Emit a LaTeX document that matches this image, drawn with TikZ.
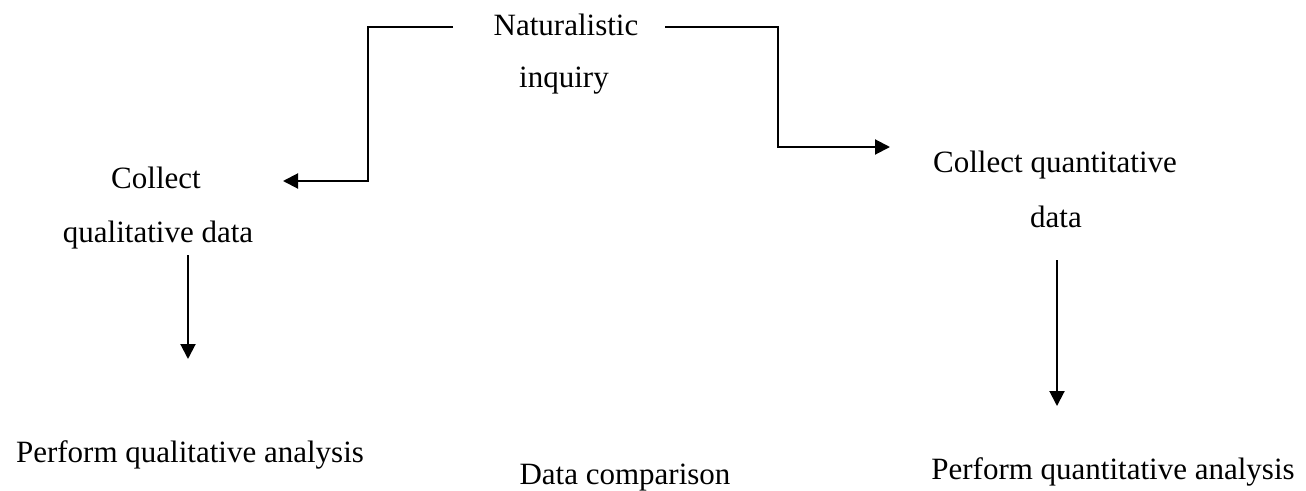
\documentclass[tikz,border=0pt]{standalone}
\usepackage{fontspec}
\setmainfont{Liberation Serif}
\usetikzlibrary{arrows.meta}
\begin{document}
\begin{tikzpicture}[x=1pt,y=-1pt,
  lbl/.style={inner sep=0pt,anchor=base,font=\fontsize{31}{36}\selectfont},
  conn/.style={line width=2pt,-{Triangle[length=15pt,width=15pt]}}]
\useasboundingbox (0,0) rectangle (1306,490);
\node[lbl] (nat1) at (566,35) {Naturalistic};
\node[lbl] (nat2) at (564,87) {inquiry};
\node[lbl] (ql1) at (156,188) {Collect};
\node[lbl] (ql2) at (158,242) {qualitative data};
\node[lbl] (qn1) at (1055,172) {Collect quantitative};
\node[lbl] (qn2) at (1056,227) {data};
\node[lbl] (pql) at (190,462) {Perform qualitative analysis};
\node[lbl] (dc) at (625,484) {Data comparison};
\node[lbl] (pqn) at (1113,479) {Perform quantitative analysis};
\coordinate (lA) at (453,27);
\coordinate (lB) at (368,27);
\coordinate (lC) at (368,181);
\coordinate (lD) at (283,181);
\coordinate (rA) at (665,27);
\coordinate (rB) at (778,27);
\coordinate (rC) at (778,147);
\coordinate (rD) at (890,147);
\coordinate (a1) at (188,255);
\coordinate (a2) at (188,359);
\coordinate (b1) at (1057,260);
\coordinate (b2) at (1057,406);
\draw[conn] (lA) -- (lB) -- (lC) -- (lD);
\draw[conn] (rA) -- (rB) -- (rC) -- (rD);
\draw[conn] (a1) -- (a2);
\draw[conn] (b1) -- (b2);
\end{tikzpicture}
\end{document}
